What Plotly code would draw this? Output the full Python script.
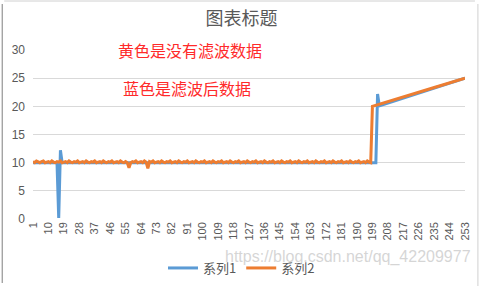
import plotly.graph_objects as go

# 系列1 (blue) values, points 1..253
series1 = [
    10.0, 10.0, 9.9, 10.0, 10.0, 9.9, 10.0, 10.0, 10.0, 9.9, 10.0, 10.0, 9.9, 10.0, 10.0,
    0.2, 12.2,
    10.0, 10.0, 9.9, 10.0, 10.0, 9.9, 10.0, 10.0, 10.0, 9.9, 10.0, 10.0, 9.9, 10.0, 10.0, 10.0, 9.9, 10.0, 10.0, 9.9,
    10.0, 10.0, 9.9, 10.0, 10.0, 9.9, 10.0, 10.0, 10.0, 9.9, 10.0, 10.0, 9.9, 10.0, 10.0, 10.0, 9.9, 10.0, 10.0, 9.9,
    10.0, 10.0, 9.9, 10.0, 10.0, 9.9, 10.0, 10.0, 10.0, 9.9, 10.0, 10.0, 9.9, 10.0, 10.0, 10.0, 9.9, 10.0, 10.0, 9.9,
    10.0, 10.0, 9.9, 10.0, 10.0, 9.9, 10.0, 10.0, 10.0, 9.9, 10.0, 10.0, 9.9, 10.0, 10.0, 10.0, 9.9, 10.0, 10.0, 9.9,
    10.0, 10.0, 9.9, 10.0, 10.0, 9.9, 10.0, 10.0, 10.0, 9.9, 10.0, 10.0, 9.9, 10.0, 10.0, 10.0, 9.9, 10.0, 10.0, 9.9,
    10.0, 10.0, 9.9, 10.0, 10.0, 9.9, 10.0, 10.0, 10.0, 9.9, 10.0, 10.0, 9.9, 10.0, 10.0, 10.0, 9.9, 10.0, 10.0, 9.9,
    10.0, 10.0, 9.9, 10.0, 10.0, 9.9, 10.0, 10.0, 10.0, 9.9, 10.0, 10.0, 9.9, 10.0, 10.0, 10.0, 9.9, 10.0, 10.0, 9.9,
    10.0, 10.0, 9.9, 10.0, 10.0, 9.9, 10.0, 10.0, 10.0, 9.9, 10.0, 10.0, 9.9, 10.0, 10.0, 10.0, 9.9, 10.0, 10.0, 9.9,
    10.0, 10.0, 9.9, 10.0, 10.0, 9.9, 10.0, 10.0, 10.0, 9.9, 10.0, 10.0, 9.9, 10.0, 10.0, 10.0, 9.9, 10.0, 10.0, 9.9,
    10.0, 10.0, 9.9, 10.0,
    22.2,
    20.10, 20.20, 20.30, 20.39, 20.49, 20.59, 20.69, 20.79, 20.88, 20.98,
    21.08, 21.18, 21.28, 21.37, 21.47, 21.57, 21.67, 21.77, 21.86, 21.96,
    22.06, 22.16, 22.26, 22.35, 22.45, 22.55, 22.65, 22.75, 22.84, 22.94,
    23.04, 23.14, 23.24, 23.33, 23.43, 23.53, 23.63, 23.73, 23.82, 23.92,
    24.02, 24.12, 24.22, 24.31, 24.41, 24.51, 24.61, 24.71, 24.80, 24.90,
    25.00,
]

# 系列2 (orange) values, points 1..253
series2 = [
    10.2, 10.0, 10.3, 10.1, 10.0, 10.2, 10.3, 10.0, 10.1, 10.2, 10.0, 10.3, 10.1, 10.0, 10.2, 10.1, 10.3, 10.0,
    10.1, 10.2, 10.0, 10.3, 10.1, 10.0, 10.2, 10.1, 10.3, 10.0, 10.1, 10.2, 10.0, 10.3, 10.1, 10.0, 10.2, 10.1,
    10.3, 10.0, 10.1, 10.2, 10.0, 10.3, 10.1, 10.0, 10.2, 10.1, 10.3, 10.0, 10.1, 10.2, 10.0, 10.3, 10.1, 10.0,
    10.2, 10.0, 9.1, 10.0, 10.2, 10.1, 10.3, 10.0, 10.1, 10.2, 10.0, 10.3, 10.1, 9.0, 10.2, 10.1, 10.3, 10.0,
    10.1, 10.2, 10.0, 10.3, 10.1, 10.0, 10.2, 10.1, 10.3, 10.0, 10.1, 10.2, 10.0, 10.3, 10.1, 10.0, 10.2, 10.1,
    10.3, 10.0, 10.1, 10.2, 10.0, 10.3, 10.1, 10.0, 10.2, 10.1, 10.3, 10.0, 10.1, 10.2, 10.0, 10.3, 10.1, 10.0,
    10.2, 10.1, 10.3, 10.0, 10.1, 10.2, 10.0, 10.3, 10.1, 10.0, 10.2, 10.1, 10.3, 10.0, 10.1, 10.2, 10.0, 10.3,
    10.1, 10.0, 10.2, 10.1, 10.3, 10.0, 10.1, 10.2, 10.0, 10.3, 10.1, 10.0, 10.2, 10.1, 10.3, 10.0, 10.1, 10.2,
    10.0, 10.3, 10.1, 10.0, 10.2, 10.1, 10.3, 10.0, 10.1, 10.2, 10.0, 10.3, 10.1, 10.0, 10.2, 10.1, 10.3, 10.0,
    10.1, 10.2, 10.0, 10.3, 10.1, 10.0, 10.2, 10.1, 10.3, 10.0, 10.1, 10.2, 10.0, 10.3, 10.1, 10.0, 10.2, 10.1,
    10.3, 10.0, 10.1, 10.2, 10.0, 10.3, 10.1, 10.0, 10.2, 10.1, 10.3, 10.0, 10.1, 10.2, 10.0, 10.3, 10.1, 10.0,
    20.00, 20.09, 20.19, 20.28, 20.37, 20.46, 20.56, 20.65, 20.74, 20.83,
    20.93, 21.02, 21.11, 21.20, 21.30, 21.39, 21.48, 21.57, 21.67, 21.76,
    21.85, 21.94, 22.04, 22.13, 22.22, 22.31, 22.41, 22.50, 22.59, 22.69,
    22.78, 22.87, 22.96, 23.06, 23.15, 23.24, 23.33, 23.43, 23.52, 23.61,
    23.70, 23.80, 23.89, 23.98, 24.07, 24.17, 24.26, 24.35, 24.44, 24.54,
    24.63, 24.72, 24.81, 24.91, 25.00,
]

x_tick_labels = ["1", "10", "19", "28", "37", "46", "55", "64", "73", "82", "91", "100",
                 "109", "118", "127", "136", "145", "154", "163", "172", "181", "190",
                 "199", "208", "217", "226", "235", "244", "253"]
y_ticks = [0, 5, 10, 15, 20, 25, 30]

title_text = "图表标题"
note1 = "黄色是没有滤波数据"
note2 = "蓝色是滤波后数据"
watermark = "https://blog.csdn.net/qq_42209977"

x1 = list(range(1, len(series1) + 1))
x2 = list(range(1, len(series2) + 1))

cjk = "Noto Sans CJK SC, Liberation Sans, sans-serif"
gray = "#595959"

fig = go.Figure()
fig.add_trace(go.Scatter(x=x1, y=series1, mode="lines", name="系列1",
                         line=dict(color="#5B9BD5", width=3)))
fig.add_trace(go.Scatter(x=x2, y=series2, mode="lines", name="系列2",
                         line=dict(color="#ED7D31", width=3)))

W, H = 483, 286
L, R, T, B = 33, 15, 50, 67
pw = W - L - R
ph = H - T - B

def px_x(px):
    return (px - L) / pw

def px_y(py):
    return (H - B - py) / ph

fig.update_layout(
    width=W, height=H,
    margin=dict(l=L, r=R, t=T, b=B),
    paper_bgcolor="white", plot_bgcolor="white",
    font=dict(family=cjk, color=gray, size=12),
    title=dict(text=title_text, x=0.5, xref="container", xanchor="center",
               y=1 - 19 / H, yref="container", yanchor="middle",
               font=dict(size=18, color=gray, family=cjk)),
    showlegend=True,
    legend=dict(orientation="h", x=0.5, xref="container", xanchor="center",
                y=1 - 268 / H, yref="container", yanchor="middle",
                font=dict(size=13, color=gray, family=cjk),
                bgcolor="rgba(0,0,0,0)", itemwidth=30),
    xaxis=dict(range=[1, 253], tickmode="array",
               tickvals=[int(t) for t in x_tick_labels], ticktext=x_tick_labels,
               tickangle=-90, tickfont=dict(size=11, color=gray, family="Liberation Sans"),
               showgrid=False, zeroline=False, showline=False, ticks=""),
    yaxis=dict(range=[0, 30], tickvals=y_ticks,
               tickfont=dict(size=12, color=gray, family="Liberation Sans"),
               showgrid=True, gridcolor="#D9D9D9", gridwidth=1,
               zeroline=False, showline=False, ticks="", ticklabelstandoff=7),
)

fig.add_annotation(text=note1, x=px_x(191.5), y=px_y(36), xref="paper", yref="paper",
                   showarrow=False, font=dict(size=16, color="#FF2A2A", family=cjk))
fig.add_annotation(text=note2, x=px_x(188.5), y=px_y(74), xref="paper", yref="paper",
                   showarrow=False, font=dict(size=16, color="#FF2A2A", family=cjk))
fig.add_annotation(text=watermark, x=px_x(476), y=px_y(268), xref="paper", yref="paper",
                   xanchor="right", showarrow=False,
                   font=dict(size=16, color="rgba(200,200,200,0.75)", family="Liberation Sans"))

# chart frame
fig.add_shape(type="line", xref="paper", yref="paper", x0=px_x(2), x1=px_x(2),
              y0=px_y(4), y1=px_y(283), line=dict(color="#7F7F7F", width=1))
fig.add_shape(type="line", xref="paper", yref="paper", x0=px_x(4), x1=px_x(478),
              y0=px_y(1), y1=px_y(1), line=dict(color="#D0D0D0", width=1))
fig.add_shape(type="line", xref="paper", yref="paper", x0=px_x(481), x1=px_x(481),
              y0=px_y(4), y1=px_y(286), line=dict(color="#D0D0D0", width=1))

fig.write_html("out.html")
